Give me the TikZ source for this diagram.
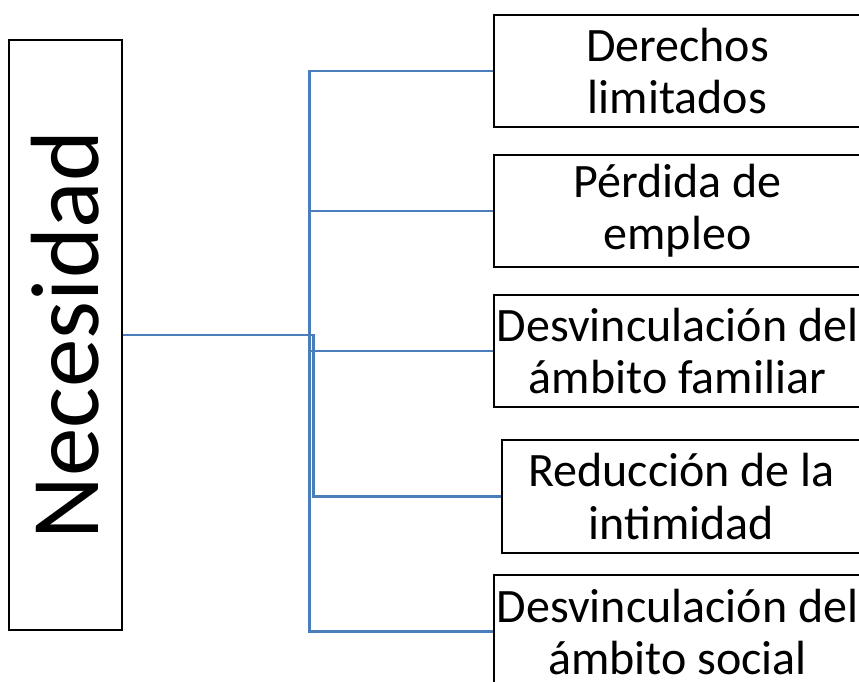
\documentclass[tikz,border=0pt]{standalone}
\usepackage{graphicx}
\usepackage{fontspec}
\setmainfont{Carlito}
\definecolor{linkblue}{RGB}{74,126,187}
\tikzset{
  box/.style={draw=black, line width=2.5pt, fill=white, align=center, inner sep=0pt,
              font=\fontsize{48}{52}\selectfont},
  link/.style={draw=linkblue, line width=2.5pt}
}

\begin{document}
\begin{tikzpicture}[x=1pt,y=-1pt]
    \clip (0,0) rectangle (859,681);
    \node[box, minimum width=113pt, minimum height=590pt, font=\fontsize{97}{110}\selectfont] (nec) at (65.5,335) {\rotatebox{90}{Necesidad}};
    \node[box, minimum width=367pt, minimum height=112pt] (d1) at (677.5,71) {Derechos\\limitados};
    \node[box, minimum width=367pt, minimum height=112pt] (d2) at (677.5,211) {Pérdida de\\empleo};
    \node[box, minimum width=367pt, minimum height=112pt] (d3) at (677.5,351) {Desvinculación del\\ámbito familiar};
    \node[box, minimum width=359pt, minimum height=113pt] (d4) at (681.5,496.5) {Reducción de la\\intimidad};
    \node[box, minimum width=367pt, minimum height=113pt] (d5) at (677.5,631.5) {Desvinculación del\\ámbito social};
    % elbow connectors
    \foreach \b/\dx in {d1/186, d2/186, d3/186, d4/190, d5/186}
      \draw[link] (nec.east) -- ++(\dx,0) |- (\b.west);
\end{tikzpicture}
\end{document}
